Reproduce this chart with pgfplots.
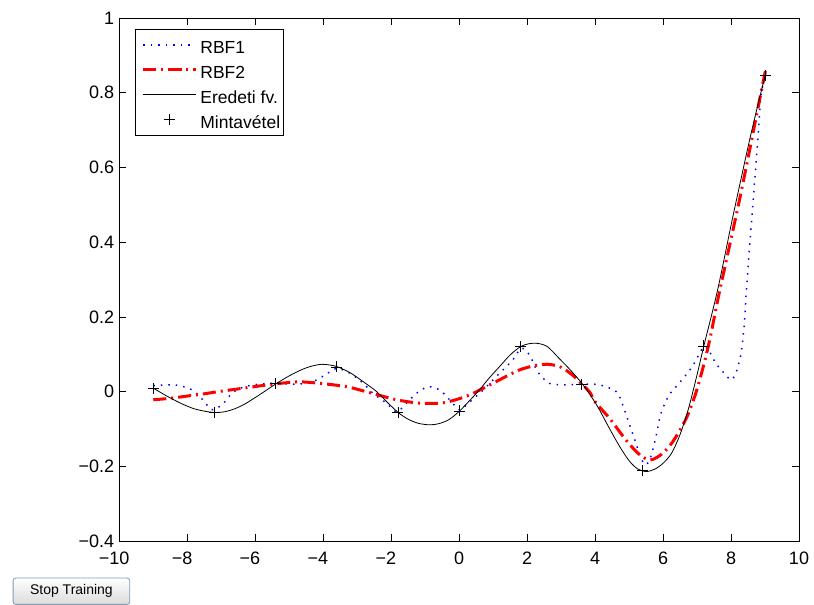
\documentclass[border=0pt]{standalone}
\usepackage{pgfplots}
\pgfplotsset{compat=1.18}
\usepackage{fontspec}
\setmainfont{Liberation Sans}
\definecolor{btnborder}{HTML}{7F9DB9}
\begin{document}
\begin{tikzpicture}[x=1pt,y=1pt]
\useasboundingbox (0,0) rectangle (814,605);
\begin{axis}[
  at={(119.3pt,64pt)}, anchor=south west,
  scale only axis, width=679.7pt, height=523pt,
  xmin=-10, xmax=10, ymin=-0.4, ymax=1,
  axis line style={line width=0.8pt},
  tick align=inside, xtick pos=both, ytick pos=both, major tick length=7pt,
  tick style={line width=0.7pt, black},
  xtick={-10,-8,-6,-4,-2,0,2,4,6,8,10},
  xticklabels={\llap{−}10,\llap{−}8,\llap{−}6,\llap{−}4,\llap{−}2,0,2,4,6,8,10},
  ytick={-0.4,-0.2,0,0.2,0.4,0.6,0.8,1},
  yticklabels={−0.4,−0.2,0,0.2,0.4,0.6,0.8,1},
  ticklabel style={font=\fontsize{18}{20}\selectfont},
  xticklabel style={anchor=base, yshift=-23.5pt},
  yticklabel style={anchor=east, inner xsep=0pt, xshift=-5pt},
  legend style={at={(0.0231,0.979)}, anchor=north west, draw=black, line width=0.8pt, fill=white,
    inner xsep=0pt, inner ysep=5.5pt, row sep=5pt,
    font=\fontsize{17.5}{20}\selectfont,
    nodes={inner xsep=3.5pt, inner ysep=0pt, text height=18.5pt, text depth=1.5pt}},
  legend cell align=left,
  legend image code/.code={\path (-6.5pt,0pt); \draw[mark repeat=2,mark phase=2,#1] plot coordinates {(0pt,0pt) (26pt,0pt) (52pt,0pt)};},
]
% RBF1
\addplot[blue, line width=1.5pt, dash pattern=on 1.5pt off 6pt, smooth, tension=0.5] table {
x y
-9 0.016
-8.4 0.018
-7.96 0.009
-7.67 -0.009
-7.42 -0.036
-7.23 -0.049
-6.93 -0.031
-6.69 -0.005
-6.44 0.009
-6.05 0.018
-5.47 0.022
-4.88 0.020
-4.54 0.022
-4.2 0.031
-3.9 0.047
-3.6 0.062
-3.21 0.049
-2.82 0.022
-2.53 -0.005
-2.14 -0.031
-1.84 -0.054
-1.55 -0.031
-1.26 -0.005
-0.92 0.013
-0.57 0.004
-0.28 -0.022
0.01 -0.049
0.21 -0.036
0.7 0.004
1.19 0.049
1.58 0.085
1.83 0.116
2.07 0.098
2.31 0.053
2.66 0.022
3.15 0.018
3.63 0.020
4.13 0.018
4.62 0.0
4.81 -0.035
5.0 -0.085
5.2 -0.138
5.35 -0.179
5.5 -0.196
5.64 -0.174
5.79 -0.121
5.94 -0.058
6.18 -0.009
6.47 0.022
6.86 0.067
7.16 0.116
7.3 0.118
7.55 0.076
7.85 0.044
8.0 0.031
8.14 0.049
8.29 0.100
8.38 0.170
8.44 0.255
8.53 0.370
8.63 0.486
8.78 0.665
8.88 0.790
9.0 0.845
};
\addlegendentry{RBF1}
% RBF2
\addplot[red, line width=3pt, dash pattern=on 13pt off 5pt on 2pt off 5pt, smooth, tension=0.5] table {
x y
-9 -0.022
-8.5 -0.018
-8.0 -0.012
-7.5 -0.006
-7.08 0.0
-6.35 0.009
-5.8 0.016
-5.27 0.022
-4.7 0.026
-4.1 0.022
-3.31 0.013
-2.63 -0.003
-1.84 -0.022
-1.16 -0.031
-0.57 -0.031
-0.18 -0.024
0.31 -0.009
0.99 0.022
1.78 0.058
2.46 0.073
2.95 0.067
3.34 0.044
3.63 0.018
3.83 0.0
4.03 -0.031
4.42 -0.071
4.91 -0.130
5.3 -0.168
5.62 -0.183
5.95 -0.168
6.28 -0.135
6.67 -0.074
6.96 -0.005
7.21 0.076
7.4 0.150
7.65 0.263
8.29 0.531
8.97 0.840
9.0 0.850
};
\addlegendentry{RBF2}
% Eredeti fv.
\addplot[black, line width=0.8pt, smooth, tension=0.5] table {
x y
-9 0.009
-8.6 -0.012
-8.2 -0.031
-7.8 -0.046
-7.4 -0.054
-7.18 -0.056
-6.9 -0.054
-6.6 -0.046
-6.3 -0.033
-6.0 -0.016
-5.7 0.002
-5.37 0.022
-5.0 0.042
-4.6 0.060
-4.3 0.069
-4.04 0.073
-3.8 0.071
-3.57 0.066
-3.2 0.050
-2.8 0.025
-2.43 0.0
-2.1 -0.030
-1.78 -0.057
-1.5 -0.074
-1.2 -0.085
-0.87 -0.089
-0.6 -0.086
-0.3 -0.075
0.0 -0.053
0.3 -0.025
0.6 0.005
0.9 0.038
1.2 0.068
1.5 0.098
1.8 0.120
2.05 0.128
2.31 0.129
2.6 0.120
2.95 0.088
3.3 0.055
3.63 0.020
3.9 -0.015
4.13 -0.049
4.4 -0.095
4.71 -0.145
5.0 -0.185
5.25 -0.207
5.5 -0.214
5.75 -0.208
6.0 -0.192
6.25 -0.165
6.5 -0.115
6.75 -0.045
7.0 0.045
7.2 0.122
7.6 0.270
8.0 0.445
8.2 0.530
8.6 0.695
9.0 0.845
};
\addlegendentry{Eredeti fv.}
% Mintavetel
\addplot[black, only marks, mark=+, mark size=5.5pt, line width=0.8pt] table {
x y
-9 0.009
-7.2 -0.055
-5.4 0.022
-3.6 0.066
-1.8 -0.057
0 -0.052
1.8 0.120
3.6 0.020
5.4 -0.212
7.2 0.122
9 0.845
};
\addlegendentry{Mintavétel}
\end{axis}
\node[draw=btnborder, line width=0.8pt, rounded corners=2.5pt, top color=white, bottom color=black!14,
  minimum width=116.6pt, minimum height=26.3pt, anchor=north west, inner sep=0pt,
  font=\fontsize{14}{16}\selectfont] at (12.7,27.3) {Stop Training};
\end{tikzpicture}
\end{document}
